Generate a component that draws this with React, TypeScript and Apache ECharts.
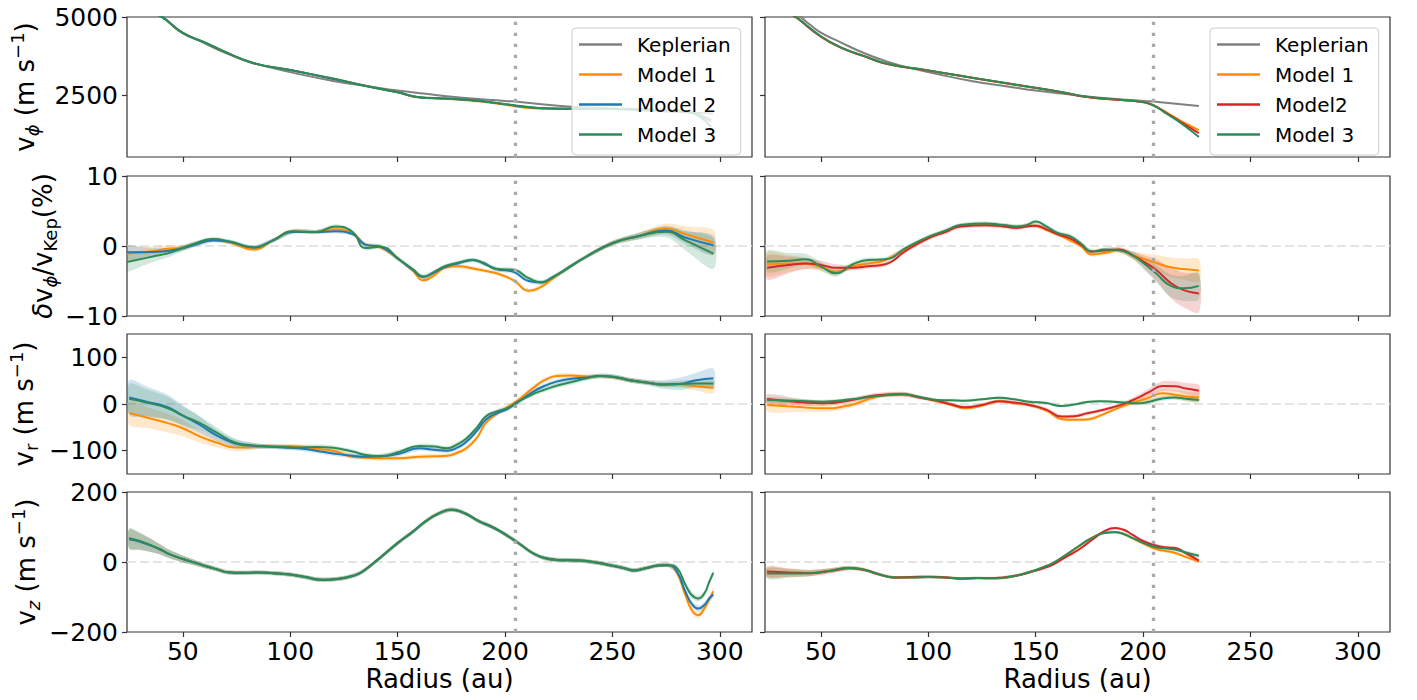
import React, { useEffect, useRef } from "react";
import * as echarts from "echarts";

const FONT = "DejaVu Sans";
const C_KEP = "#808080";
const C_M1 = "#ff8c00";
const C_M2L = "#1f77b4";
const C_M2R = "#d62728";
const C_M3 = "#2e8b57";

const xTicks = [50, 100, 150, 200, 250, 300];
const yTicksVphi = [2500, 5000];
const yTicksDv = [-10, 0, 10];
const yTicksVr = [-100, 0, 100];
const yTicksVz = [-200, 0, 200];
const rMarker = 205;

// ---- Row 1: v_phi ----
const xKepL = [25, 30, 35, 41, 45, 50, 59, 70, 81, 90, 100, 120, 140, 149, 162, 180, 200, 207, 226, 240, 260, 280, 297];
const vKepL = [6300, 5750, 5330, 4980, 4750, 4500, 4200, 3850, 3570, 3400, 3240, 2960, 2750, 2660, 2554, 2420, 2320, 2286, 2160, 2100, 2030, 1970, 1920];
const xKepR = [25, 30, 35, 41, 45, 50, 59, 70, 81, 90, 100, 120, 140, 149, 162, 180, 200, 207, 226];
const vKepR = [6300, 5750, 5330, 4980, 4750, 4500, 4200, 3850, 3570, 3400, 3240, 2960, 2750, 2660, 2554, 2420, 2320, 2286, 2160];

const xVphiL = [25, 35, 42, 50, 60, 70, 83, 100, 120, 135, 150, 160, 172, 185, 196, 205, 211, 217, 228, 240, 250, 262, 275, 284, 290, 296];
const vphiL_m1 = [6230, 5285, 4928, 4487, 4192, 3874, 3518, 3306, 3028, 2805, 2597, 2428, 2390, 2320, 2240, 2145, 2095, 2080, 2070, 2070, 2072, 2052, 2031, 1990, 1880, 1650];
const vphiL_m2 = [6245, 5290, 4930, 4487, 4190, 3873, 3523, 3305, 3020, 2805, 2597, 2440, 2395, 2342, 2255, 2170, 2120, 2090, 2070, 2070, 2070, 2050, 2025, 1983, 1850, 1490];
const vphiL_m3 = [6160, 5250, 4910, 4482, 4195, 3876, 3525, 3307, 3035, 2800, 2597, 2440, 2398, 2345, 2255, 2175, 2125, 2090, 2070, 2070, 2070, 2050, 2022, 1975, 1890, 1700];

const xVphiR = [25, 35, 40, 50, 59, 70, 81, 99, 115, 130, 149, 162, 174, 190, 199, 203, 207, 211, 216, 221, 226];
const vphiR_m1 = [6140, 5200, 4920, 4380, 4040, 3755, 3500, 3300, 3120, 2950, 2745, 2600, 2446, 2350, 2290, 2235, 2110, 1950, 1750, 1560, 1390];
const vphiR_m2 = [6130, 5190, 4910, 4370, 4030, 3750, 3495, 3300, 3125, 2955, 2750, 2600, 2446, 2350, 2290, 2230, 2100, 1930, 1720, 1500, 1290];
const vphiR_m3 = [6150, 5210, 4925, 4385, 4040, 3760, 3505, 3305, 3125, 2955, 2750, 2605, 2450, 2352, 2290, 2230, 2095, 1910, 1690, 1440, 1170];

// ---- Row 2: delta v_phi / v_Kep ----
const xDvL = [24, 30, 36, 43, 49, 56, 64, 72, 83, 92, 101, 112, 121, 129, 135, 142, 151, 157, 162, 167, 172, 178, 185, 190, 196, 204, 211, 217, 222, 228, 238, 250, 262, 275, 284, 297];
const dvL_m1 = [-1.1, -0.9, -0.7, -0.4, -0.3, 0.3, 0.9, 0.5, -0.5, 0.8, 2.1, 2.0, 2.4, 1.9, 0.2, -0.2, -2.0, -3.5, -4.9, -4.2, -3.1, -2.9, -3.2, -3.5, -3.9, -4.9, -6.4, -5.8, -4.7, -3.4, -1.5, 0.4, 1.4, 2.5, 1.7, 0.5];
const dvL_m2 = [-0.9, -0.9, -0.85, -0.7, -0.4, 0.2, 0.8, 0.6, -0.2, 0.8, 2.0, 2.0, 2.1, 1.7, 0.2, -0.1, -2.0, -3.4, -4.4, -3.8, -3.0, -2.5, -2.0, -2.5, -3.3, -3.7, -5.0, -5.2, -4.5, -3.4, -1.5, 0.4, 1.4, 2.2, 1.2, 0.1];
const dvL_m3 = [-2.3, -1.9, -1.5, -1.05, -0.4, 0.4, 1.0, 0.6, -0.2, 0.8, 2.1, 2.0, 2.8, 2.0, -0.3, -0.1, -2.0, -3.3, -4.4, -3.7, -2.9, -2.4, -2.0, -2.4, -3.3, -3.4, -4.6, -5.2, -4.5, -3.4, -1.5, 0.4, 1.4, 2.05, 0.8, -1.1];
const hwDvL_m1 = [1.0, 0.8, 0.6, 0.5, 0.4, 0.35, 0.3, 0.3, 0.3, 0.3, 0.3, 0.3, 0.3, 0.3, 0.3, 0.3, 0.3, 0.3, 0.3, 0.3, 0.3, 0.3, 0.3, 0.3, 0.3, 0.3, 0.3, 0.3, 0.3, 0.3, 0.3, 0.35, 0.45, 0.7, 1.1, 1.8];
const hwDvL_m2 = [1.0, 0.8, 0.6, 0.5, 0.4, 0.35, 0.3, 0.3, 0.3, 0.3, 0.3, 0.3, 0.3, 0.3, 0.3, 0.3, 0.3, 0.3, 0.3, 0.3, 0.3, 0.3, 0.3, 0.3, 0.3, 0.3, 0.3, 0.3, 0.3, 0.3, 0.3, 0.35, 0.45, 0.6, 0.9, 1.4];
const hwDvL_m3 = [1.3, 1.1, 0.8, 0.6, 0.45, 0.35, 0.3, 0.3, 0.3, 0.3, 0.3, 0.3, 0.3, 0.3, 0.3, 0.3, 0.3, 0.3, 0.3, 0.3, 0.3, 0.3, 0.3, 0.3, 0.3, 0.3, 0.3, 0.3, 0.3, 0.3, 0.3, 0.35, 0.5, 0.8, 1.4, 2.2];

const xDvR = [25, 35, 43, 50, 57, 65, 72, 80, 90, 100, 108, 115, 127, 135, 141, 146, 150, 155, 160, 166, 171, 176, 182, 189, 195, 200, 206, 213, 219, 226];
const dvR_m1 = [-2.6, -2.5, -2.5, -3.0, -3.7, -2.9, -2.5, -2.0, -0.3, 1.2, 2.1, 2.9, 3.1, 2.9, 2.7, 2.9, 2.9, 2.3, 1.7, 0.8, 0.0, -1.2, -1.0, -0.6, -1.3, -1.8, -2.4, -3.05, -3.3, -3.5];
const dvR_m2 = [-3.1, -2.7, -2.5, -2.7, -3.1, -3.1, -2.9, -2.6, -0.6, 1.1, 2.0, 2.8, 2.95, 2.8, 2.6, 2.8, 2.9, 2.4, 1.7, 1.1, 0.2, -0.8, -0.65, -0.5, -1.3, -2.2, -3.4, -5.3, -6.3, -6.8];
const dvR_m3 = [-2.2, -2.1, -1.9, -2.9, -3.9, -2.6, -2.0, -1.9, -0.2, 1.3, 2.2, 3.0, 3.2, 3.0, 2.8, 3.0, 3.5, 2.8, 1.9, 1.4, 0.4, -0.8, -0.5, -0.6, -1.3, -2.4, -3.9, -5.7, -6.05, -5.7];
const hwDvR_m1 = [1.7, 1.2, 0.8, 0.6, 0.5, 0.4, 0.35, 0.3, 0.3, 0.3, 0.3, 0.3, 0.3, 0.3, 0.3, 0.3, 0.3, 0.3, 0.3, 0.3, 0.3, 0.3, 0.3, 0.35, 0.5, 0.8, 1.1, 1.4, 1.5, 1.6];
const hwDvR_m2 = [1.7, 1.2, 0.8, 0.6, 0.5, 0.4, 0.35, 0.3, 0.3, 0.3, 0.3, 0.3, 0.3, 0.3, 0.3, 0.3, 0.3, 0.3, 0.3, 0.3, 0.3, 0.3, 0.3, 0.35, 0.5, 0.9, 1.5, 2.2, 2.5, 2.7];
const hwDvR_m3 = [1.5, 1.1, 0.8, 0.6, 0.5, 0.4, 0.35, 0.3, 0.3, 0.3, 0.3, 0.3, 0.3, 0.3, 0.3, 0.3, 0.3, 0.3, 0.3, 0.3, 0.3, 0.3, 0.3, 0.35, 0.5, 0.8, 1.2, 1.6, 1.8, 1.9];

// ---- Row 3: v_r ----
const xVrL = [25, 34, 43, 50, 58, 66, 74, 81, 89, 97, 104, 112, 120, 129, 136, 142, 151, 160, 167, 173, 178, 182, 187, 191, 196, 201, 206, 213, 218, 224, 231, 238, 244, 251, 258, 266, 273, 281, 289, 297];
const vrL_m1 = [-19, -30, -41, -52, -70, -83, -93, -93, -90, -90, -91, -96, -100, -113, -115, -116, -116, -113, -112, -111, -104, -95, -72, -41, -22, -7, 8, 34, 50, 60, 61, 59, 60, 57, 51, 46, 42, 42, 38, 35];
const vrL_m2 = [14, 4, -7, -25, -45, -68, -84, -89, -91, -93, -95, -100, -106, -111, -113, -112, -106, -95, -98, -100, -93, -81, -57, -34, -20, -11, 4, 26, 38, 48, 54, 57, 60, 58, 51, 46, 42, 43, 51, 55];
const vrL_m3 = [11, 2, -9, -25, -41, -62, -82, -88, -91, -92, -93, -92, -94, -102, -110, -112, -102, -90, -91, -95, -86, -74, -50, -27, -16, -9, 5, 21, 30, 39, 47, 55, 60, 58, 51, 46, 42, 43, 44, 44];
const hwVrL_m1 = [25, 22, 20, 17, 13, 10, 8, 6, 5, 5, 5, 5, 5, 5, 5, 5, 5, 5, 5, 5, 5, 5, 5, 5, 5, 5, 5, 5, 5, 5, 5, 5, 5, 5, 5, 5, 5, 6, 9, 12];
const hwVrL_m2 = [37, 32, 27, 22, 17, 12, 9, 7, 5, 5, 5, 5, 5, 5, 5, 5, 5, 5, 5, 5, 5, 5, 5, 5, 5, 5, 5, 5, 5, 5, 5, 5, 5, 5, 5, 6, 9, 13, 16, 21];
const hwVrL_m3 = [32, 28, 24, 20, 15, 11, 8, 6, 5, 5, 5, 5, 5, 5, 5, 5, 5, 5, 5, 5, 5, 5, 5, 5, 5, 5, 5, 5, 5, 5, 5, 5, 5, 5, 5, 5, 6, 7, 8, 8];

const xVrR = [25, 38, 51, 64, 76, 88, 96, 104, 111, 117, 125, 133, 140, 147, 155, 162, 168, 174, 180, 186, 192, 197, 203, 209, 215, 220, 226];
const vrR_m1 = [-2, -6, -9.3, -2, 15.7, 21, 14, 6, -2, -9.3, -3, 6, 2, -2, -14, -32, -34, -33, -25, -13, -2, 5, 14, 22.9, 20, 16, 14];
const vrR_m2 = [10.7, 5, 1.4, 8, 19, 21, 14, 7, -1, -7, -2, 6, 3, -2, -12, -27, -26, -20, -14, -7, 2, 12, 26, 38.6, 38, 33, 28.6];
const vrR_m3 = [8.6, 7, 5, 10, 17, 21, 15, 8.6, 8, 7, 10, 13.6, 10, 5, 2, -4.3, -1, 4.3, 6, 5, 3, 1.4, 5, 12, 14, 11, 8.6];
const hwVrR_m1 = [14, 11, 8, 6, 5, 5, 4, 4, 4, 4, 4, 4, 4, 4, 4, 4, 4, 4, 4, 4, 5, 6, 8, 9, 10, 10, 10];
const hwVrR_m2 = [10, 8, 6, 5, 5, 5, 4, 4, 4, 4, 4, 4, 4, 4, 4, 4, 4, 4, 4, 4, 5, 6, 8, 10, 11, 12, 12];
const hwVrR_m3 = [6, 5, 4, 4, 4, 4, 3, 3, 3, 3, 3, 3, 3, 3, 3, 3, 3, 3, 3, 3, 4, 4, 5, 5, 5, 5, 5];

// ---- Row 4: v_z ----
const xVzL = [25, 30, 38, 44, 50, 55, 60, 66, 71, 78, 85, 92, 100, 107, 114, 121, 127, 132, 136, 143, 150, 157, 163, 169, 175, 181, 188, 194, 199, 206, 213, 218, 224, 235, 243, 250, 255, 260, 266, 271, 276, 280, 284, 287, 290, 293, 295, 297];
const vzL_m1 = [66, 59, 40, 22, 8.6, -1, -10.5, -21, -29.5, -31, -30, -32, -36, -43, -50.5, -49, -43, -33, -17, 18, 54, 86, 116, 138, 149.5, 140, 116, 100, 83, 55, 25, 12, 6, 4, -2, -10.5, -17, -24, -17, -10, -9, -31, -95, -138, -152, -131, -108, -84];
const vzL_m2 = [65, 58, 40, 22, 8.6, -1, -10.5, -21, -29.5, -31, -30, -32, -36, -43, -50.5, -49, -43, -33, -17, 18, 54, 86, 116, 138, 149.5, 140, 116, 100, 83, 55, 25, 12, 6, 4, -2, -10.5, -17, -24, -17, -10, -9, -27, -85, -120, -133, -122, -105, -93];
const vzL_m3 = [68, 60, 40, 22, 8.6, -1, -10.5, -21, -29.5, -31, -30, -32, -36, -43, -50.5, -49, -43, -33, -17, 18, 54, 86, 116, 138, 149.5, 140, 116, 100, 83, 55, 25, 12, 6, 4, -2, -10.5, -17, -24, -17, -10, -9, -17, -65, -95, -104, -88, -58, -31];
const hwVzL = [28, 24, 16, 12, 10, 8, 7, 6, 6, 6, 6, 6, 6, 6, 6, 6, 6, 6, 6, 6, 6, 6, 6, 6, 6, 6, 6, 6, 6, 6, 6, 6, 6, 6, 6, 6, 6, 6, 6, 6, 6, 8, 9, 9, 9, 9, 9, 9];

const xVzR = [25, 35, 45, 55, 63, 70, 77, 84, 92, 100, 108, 115, 123, 131, 140, 148, 154, 158, 164, 170, 176, 182, 187, 191, 195, 200, 206, 210, 215, 220, 226];
const vzR_m1 = [-30, -31, -31, -24, -17, -22, -35, -44, -44, -43, -44, -47, -46, -46.5, -40, -27, -14, -4, 19, 44, 68, 84, 86, 80, 68, 53, 37, 32, 25.7, 14, 2];
const vzR_m2 = [-27, -30, -32, -25, -18, -22, -35, -44, -43, -42, -44, -47, -46, -46, -40, -28, -17, -7.6, 14, 35, 62, 88, 97, 92, 78, 60, 47, 42, 40, 25, 4];
const vzR_m3 = [-33, -33, -32, -24, -17, -22, -35, -44, -44, -43, -44, -47.6, -46, -46.7, -40, -27, -14, -3, 20, 45, 68, 83, 85, 80, 69, 55, 42, 39, 36, 27, 18];
const hwVzR = [15, 12, 9, 7, 6, 5, 4, 4, 4, 4, 4, 4, 4, 4, 4, 4, 4, 4, 4, 4, 4, 4, 4, 4, 4, 5, 5, 5, 5, 5, 5];

// ---------- layout ----------
const LEFTS = [127, 765];
const TOPS = [17, 176, 334, 492];
const W = 625;
const H = 140;
const X_MIN = 24;
const X_MAX = 315;

const yRanges = [
  [530, 5000],
  [-10, 10],
  [-150, 150],
  [-200, 200],
];
const yTicks = [yTicksVphi, yTicksDv, yTicksVr, yTicksVz];
const yNames = [
  "{t|v}{si|ϕ}{t| (m s}{p|−1}{t|)}",
  "{ti|δ}{t|v}{si|ϕ}{t|/v}{s|Kep}{t|(%)}",
  "{t|v}{s|r}{t| (m s}{p|−1}{t|)}",
  "{t|v}{si|z}{t| (m s}{p|−1}{t|)}",
];
const yNameGaps = [86, 68, 87, 85];

const SMOOTH = 0.5;

const pairs = (xs: number[], ys: number[]) => xs.map((x, i) => [x, ys[i]]);

function lineS(g: number, name: string, color: string, xs: number[], ys: number[], extra: any = {}) {
  return {
    type: "line",
    name,
    xAxisIndex: g,
    yAxisIndex: g,
    data: pairs(xs, ys),
    showSymbol: false,
    symbol: "none",
    smooth: SMOOTH,
    lineStyle: { color, width: 2 },
    itemStyle: { color },
    silent: true,
    z: 3,
    ...extra,
  };
}

function bandS(g: number, color: string, xs: number[], ys: number[], hw: number[]) {
  const data = xs.map((x, i) => [x, ys[i] - hw[i], ys[i] + hw[i]]);
  return {
    type: "custom",
    xAxisIndex: g,
    yAxisIndex: g,
    silent: true,
    clip: true,
    z: 1,
    data,
    encode: { x: 0, y: [1, 2] },
    renderItem: (params: any, api: any) => {
      if (params.dataIndex !== 0) return null;
      const up = data.map((d) => api.coord([d[0], d[2]]));
      const lo = data.map((d) => api.coord([d[0], d[1]])).reverse();
      return {
        type: "polygon",
        shape: { points: up.concat(lo), smooth: 0.3 },
        style: { fill: color, opacity: 0.2 },
      };
    },
  };
}

const zeroLine = {
  silent: true,
  symbol: ["none", "none"],
  z: 1,
  label: { show: false },
  lineStyle: { color: "#dddddd", width: 1.5, type: [9, 4] },
  data: [{ yAxis: 0 }],
};

const dotLine = {
  silent: true,
  symbol: ["none", "none"],
  z: 5,
  label: { show: false },
  lineStyle: { color: "#a9a9a9", width: 3.3, type: [3.3, 7.7] },
  data: [{ xAxis: rMarker }],
};

type Model = { name: string; color: string; ys: number[]; hw?: number[] };
type Panel = { row: number; col: number; xs: number[]; models: Model[]; kep?: { xs: number[]; ys: number[] } };

const panels: Panel[] = [
  {
    row: 0, col: 0, xs: xVphiL, kep: { xs: xKepL, ys: vKepL },
    models: [
      { name: "Model 1", color: C_M1, ys: vphiL_m1 },
      { name: "Model 2", color: C_M2L, ys: vphiL_m2 },
      { name: "Model 3", color: C_M3, ys: vphiL_m3 },
    ],
  },
  {
    row: 0, col: 1, xs: xVphiR, kep: { xs: xKepR, ys: vKepR },
    models: [
      { name: "Model 1", color: C_M1, ys: vphiR_m1 },
      { name: "Model2", color: C_M2R, ys: vphiR_m2 },
      { name: "Model 3", color: C_M3, ys: vphiR_m3 },
    ],
  },
  {
    row: 1, col: 0, xs: xDvL,
    models: [
      { name: "Model 1", color: C_M1, ys: dvL_m1, hw: hwDvL_m1 },
      { name: "Model 2", color: C_M2L, ys: dvL_m2, hw: hwDvL_m2 },
      { name: "Model 3", color: C_M3, ys: dvL_m3, hw: hwDvL_m3 },
    ],
  },
  {
    row: 1, col: 1, xs: xDvR,
    models: [
      { name: "Model 1", color: C_M1, ys: dvR_m1, hw: hwDvR_m1 },
      { name: "Model2", color: C_M2R, ys: dvR_m2, hw: hwDvR_m2 },
      { name: "Model 3", color: C_M3, ys: dvR_m3, hw: hwDvR_m3 },
    ],
  },
  {
    row: 2, col: 0, xs: xVrL,
    models: [
      { name: "Model 1", color: C_M1, ys: vrL_m1, hw: hwVrL_m1 },
      { name: "Model 2", color: C_M2L, ys: vrL_m2, hw: hwVrL_m2 },
      { name: "Model 3", color: C_M3, ys: vrL_m3, hw: hwVrL_m3 },
    ],
  },
  {
    row: 2, col: 1, xs: xVrR,
    models: [
      { name: "Model 1", color: C_M1, ys: vrR_m1, hw: hwVrR_m1 },
      { name: "Model2", color: C_M2R, ys: vrR_m2, hw: hwVrR_m2 },
      { name: "Model 3", color: C_M3, ys: vrR_m3, hw: hwVrR_m3 },
    ],
  },
  {
    row: 3, col: 0, xs: xVzL,
    models: [
      { name: "Model 1", color: C_M1, ys: vzL_m1, hw: hwVzL },
      { name: "Model 2", color: C_M2L, ys: vzL_m2, hw: hwVzL },
      { name: "Model 3", color: C_M3, ys: vzL_m3, hw: hwVzL },
    ],
  },
  {
    row: 3, col: 1, xs: xVzR,
    models: [
      { name: "Model 1", color: C_M1, ys: vzR_m1, hw: hwVzR },
      { name: "Model2", color: C_M2R, ys: vzR_m2, hw: hwVzR },
      { name: "Model 3", color: C_M3, ys: vzR_m3, hw: hwVzR },
    ],
  },
];

const minusFmt = (v: number) => (v < 0 ? "\u2212" + Math.abs(v) : String(v));

function buildOption() {
  const grids: any[] = [];
  const xAxes: any[] = [];
  const yAxes: any[] = [];
  const series: any[] = [];

  panels.forEach((p, idx) => {
    const g = idx;
    const { row, col } = p;
    grids.push({
      left: LEFTS[col],
      top: TOPS[row],
      width: W,
      height: H,
      show: true,
      borderColor: "#333333",
      borderWidth: 1.2,
      backgroundColor: "transparent",
      containLabel: false,
      outerBoundsMode: "none",
    });
    xAxes.push({
      gridIndex: g,
      type: "value",
      min: X_MIN,
      max: X_MAX,
      position: "bottom",
      axisLine: { show: false, onZero: false },
      splitLine: { show: false },
      axisTick: { show: true, length: 5, customValues: xTicks, lineStyle: { color: "#333333", width: 1.2 } },
      axisLabel: {
        show: row === 3,
        customValues: xTicks,
        fontSize: 25,
        margin: 7,
        color: "#000000",
        fontFamily: FONT,
      },
      name: row === 3 ? "Radius (au)" : "",
      nameLocation: "middle",
      nameGap: 34,
      nameMoveOverlap: false,
      nameTextStyle: { fontSize: 26, color: "#000000", fontFamily: FONT },
    });
    const [ymin, ymax] = yRanges[row];
    yAxes.push({
      gridIndex: g,
      type: "value",
      min: ymin,
      max: ymax,
      position: "left",
      axisLine: { show: false, onZero: false },
      splitLine: { show: false },
      axisTick: { show: true, length: 5, customValues: yTicks[row], lineStyle: { color: "#333333", width: 1.2 } },
      axisLabel: {
        show: col === 0,
        customValues: yTicks[row],
        fontSize: 25,
        margin: 9,
        color: "#000000",
        fontFamily: FONT,
        formatter: minusFmt,
      },
      name: col === 0 ? yNames[row] : "",
      nameLocation: "middle",
      nameRotate: 90,
      nameGap: yNameGaps[row],
      nameMoveOverlap: false,
      nameTextStyle: {
        fontSize: 26,
        color: "#000000",
        fontFamily: FONT,
        rich: {
          t: { fontSize: 26, lineHeight: 33, fontFamily: FONT, color: "#000" },
          ti: { fontSize: 26, lineHeight: 33, fontFamily: FONT, fontStyle: "italic", color: "#000" },
          s: { fontSize: 18, lineHeight: 18, fontFamily: FONT, verticalAlign: "bottom", color: "#000" },
          si: { fontSize: 18, lineHeight: 18, fontFamily: FONT, fontStyle: "italic", verticalAlign: "bottom", color: "#000" },
          p: { fontSize: 18, lineHeight: 18, fontFamily: FONT, verticalAlign: "top", color: "#000" },
        },
      },
    });

    // uncertainty bands
    p.models.forEach((m) => {
      if (m.hw) series.push(bandS(g, m.color, p.xs, m.ys, m.hw));
    });
    // keplerian
    if (p.kep) series.push(lineS(g, "Keplerian", C_KEP, p.kep.xs, p.kep.ys));
    // model lines
    p.models.forEach((m, mi) => {
      const extra: any = {};
      if (mi === 0 && row > 0) extra.markLine = zeroLine;
      if (mi === 2) extra.markLine = dotLine;
      series.push(lineS(g, m.name, m.color, p.xs, m.ys, extra));
    });
  });

  const legendCommon = {
    orient: "vertical",
    top: 28,
    itemWidth: 43,
    itemHeight: 2.5,
    itemGap: 10,
    icon: "rect",
    padding: [6.5, 10, 10.5, 7],
    backgroundColor: "rgba(255,255,255,0.8)",
    borderColor: "#cccccc",
    borderWidth: 1,
    borderRadius: 4,
    selectedMode: false,
    z: 10,
    textStyle: { fontSize: 20, color: "#000000", fontFamily: FONT, padding: [0, 0, 0, 10] },
  };

  return {
    animation: false,
    backgroundColor: "#ffffff",
    textStyle: { fontFamily: FONT },
    grid: grids,
    xAxis: xAxes,
    yAxis: yAxes,
    legend: [
      { ...legendCommon, left: 572, data: ["Keplerian", "Model 1", "Model 2", "Model 3"] },
      { ...legendCommon, left: 1210, data: ["Keplerian", "Model 1", "Model2", "Model 3"] },
    ],
    series,
  };
}

export default function App() {
  const ref = useRef<HTMLDivElement>(null);
  useEffect(() => {
    document.body.style.margin = "0";
    const chart = echarts.init(ref.current as HTMLDivElement, null, { renderer: "svg" });
    chart.setOption(buildOption() as any);
    return () => {
      chart.dispose();
    };
  }, []);
  return <div ref={ref} style={{ width: 1417, height: 700 }} />;
}
